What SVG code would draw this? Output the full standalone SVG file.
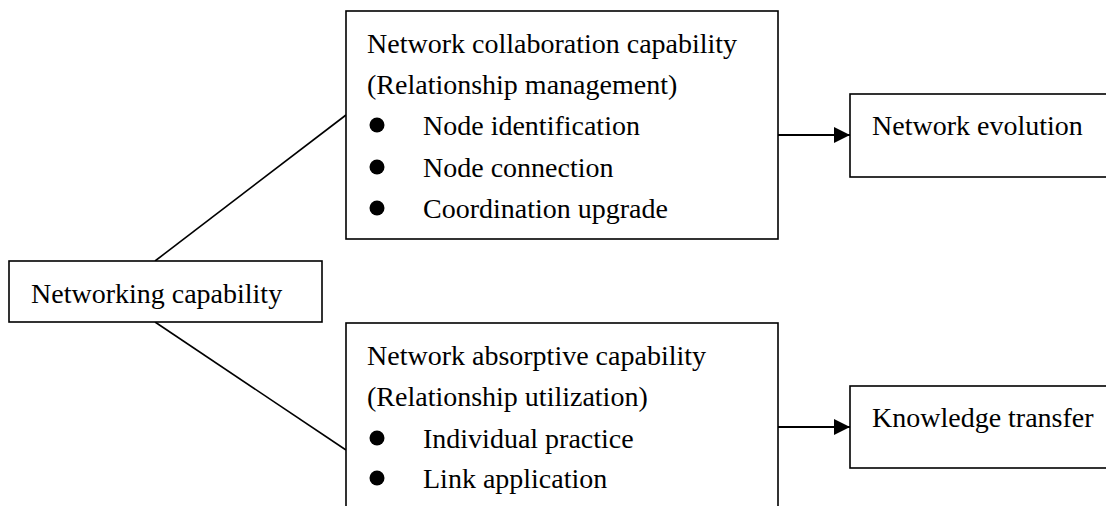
<svg xmlns="http://www.w3.org/2000/svg" width="1106" height="506" viewBox="0 0 1106 506">
  <style>
    .box { fill: #fff; stroke: #000; stroke-width: 1.6; }
    .lbl { font-family: "Liberation Serif", "Times New Roman", serif; font-size: 28px; fill: #000; }
    .link { fill: none; stroke: #000; stroke-width: 1.6; }
    .arrow { fill: none; stroke: #000; stroke-width: 2; marker-end: url(#head); }
    .dot { fill: #000; }
  </style>
  <defs>
    <marker id="head" markerUnits="userSpaceOnUse" markerWidth="18" markerHeight="16" refX="16" refY="8" orient="auto">
      <path d="M0,0 L16,8 L0,16 Z" fill="#000"/>
    </marker>
  </defs>
  <rect width="1106" height="506" fill="#fff"/>

  <g id="connectors">
    <line class="link" x1="155" y1="261" x2="346" y2="115"/>
    <line class="link" x1="155" y1="322" x2="346" y2="450"/>
    <line class="arrow" x1="778" y1="135" x2="850" y2="135"/>
    <line class="arrow" x1="778" y1="427" x2="850" y2="427"/>
  </g>

  <g id="networking-capability">
    <rect class="box" x="9" y="261" width="313" height="61"/>
    <text class="lbl" x="31" y="303">Networking capability</text>
  </g>

  <g id="collaboration-capability">
    <rect class="box" x="346" y="11" width="432" height="228"/>
    <text class="lbl" x="367" y="53">Network collaboration capability</text>
    <text class="lbl" x="367" y="94">(Relationship management)</text>
    <circle class="dot" cx="377" cy="125" r="7.5"/>
    <text class="lbl" x="423" y="135">Node identification</text>
    <circle class="dot" cx="377" cy="167" r="7.5"/>
    <text class="lbl" x="423" y="177">Node connection</text>
    <circle class="dot" cx="377" cy="208" r="7.5"/>
    <text class="lbl" x="423" y="218">Coordination upgrade</text>
  </g>

  <g id="absorptive-capability">
    <rect class="box" x="346" y="323" width="432" height="200"/>
    <text class="lbl" x="367" y="365">Network absorptive capability</text>
    <text class="lbl" x="367" y="406">(Relationship utilization)</text>
    <circle class="dot" cx="377" cy="438" r="7.5"/>
    <text class="lbl" x="423" y="448">Individual practice</text>
    <circle class="dot" cx="377" cy="478" r="7.5"/>
    <text class="lbl" x="423" y="488">Link application</text>
  </g>

  <g id="network-evolution">
    <rect class="box" x="850" y="94" width="280" height="83"/>
    <text class="lbl" x="872" y="135">Network evolution</text>
  </g>

  <g id="knowledge-transfer">
    <rect class="box" x="850" y="386" width="280" height="82"/>
    <text class="lbl" x="872" y="427">Knowledge transfer</text>
  </g>
</svg>
